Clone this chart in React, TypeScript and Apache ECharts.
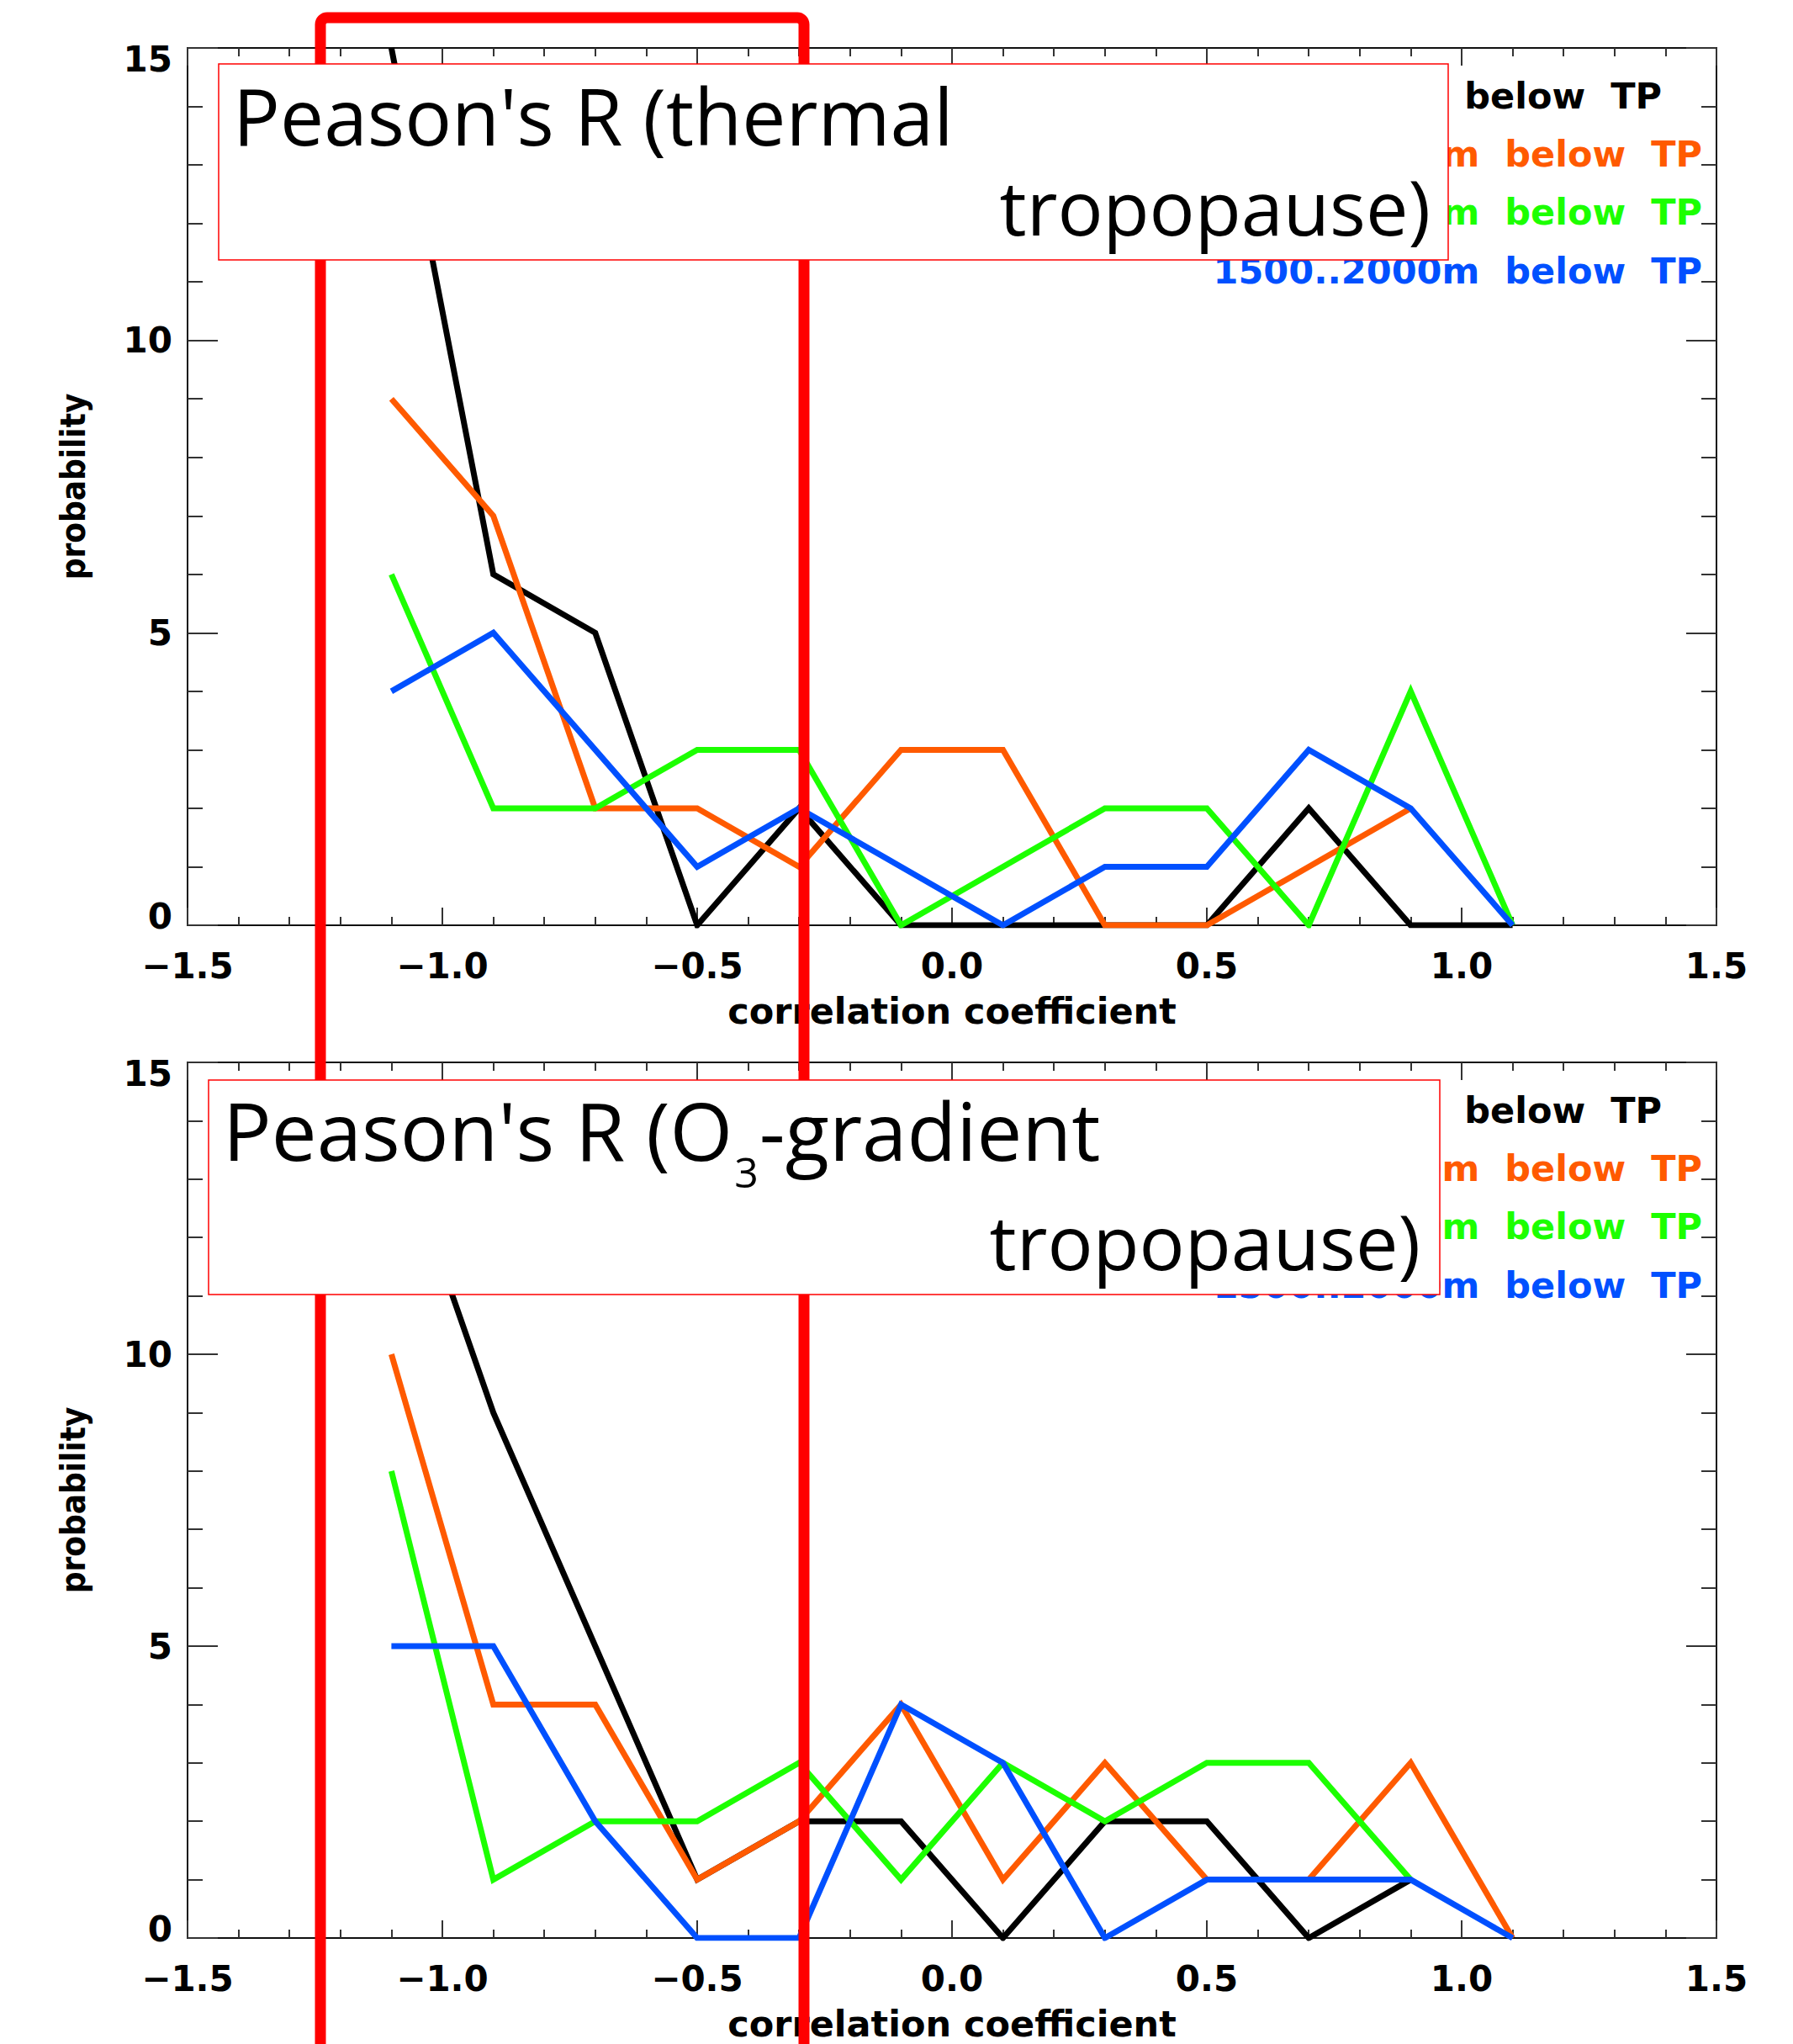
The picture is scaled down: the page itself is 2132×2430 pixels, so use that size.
import React, { useEffect, useRef } from 'react';
import * as echarts from 'echarts';

// ---------- data ----------
const binCenters = [-1.1, -0.9, -0.7, -0.5, -0.3, -0.1, 0.1, 0.3, 0.5, 0.7, 0.9, 1.1];
const seriesNames = ['0..500m  below  TP', '500..1000m  below  TP', '1000..1500m  below  TP', '1500..2000m  below  TP'];
const seriesColors = ['#000000', '#ff5a00', '#1cff00', '#0050ff'];

// Top panel: thermal tropopause
const thermalBlack = [15, 6, 5, 0, 2, 0, 0, 0, 0, 2, 0, 0];
const thermalOrange = [9, 7, 2, 2, 1, 3, 3, 0, 0, 1, 2, null];
const thermalGreen = [6, 2, 2, 3, 3, 0, 1, 2, 2, 0, 4, 0];
const thermalBlue = [4, 5, 3, 1, 2, 1, 0, 1, 1, 3, 2, 0];

// Bottom panel: O3-gradient tropopause
const ozoneBlack = [14, 9, 5, 1, 2, 2, 0, 2, 2, 0, 1, null];
const ozoneOrange = [10, 4, 4, 1, 2, 4, 1, 3, 1, 1, 3, 0];
const ozoneGreen = [8, 1, 2, 2, 3, 1, 3, 2, 3, 3, 1, null];
const ozoneBlue = [5, 5, 2, 0, 0, 4, 3, 0, 1, 1, 1, 0];

const xTickValues = [-1.5, -1.0, -0.5, 0.0, 0.5, 1.0, 1.5];
const yTickValues = [0, 5, 10, 15];

const xAxisTitle = 'correlation coefficient';
const yAxisTitle = 'probability';
const topTitleLine1 = "Peason's R (thermal";
const bottomTitleParts = ["Peason's R (O", '3', '-gradient'];
const titleLine2 = 'tropopause)';

// ---------- layout ----------
const LEFT = 223;
const WIDTH = 1818;
const panels = [
  { top: 57, height: 1043, values: [thermalBlack, thermalOrange, thermalGreen, thermalBlue] },
  { top: 1263, height: 1041, values: [ozoneBlack, ozoneOrange, ozoneGreen, ozoneBlue] },
];

const IDL_FONT = 'DejaVu Sans';
const TITLE_FONT = 'Open Sans';

function measure(text: string, font: string): number {
  const ctx = document.createElement('canvas').getContext('2d');
  if (!ctx) return text.length * 40;
  ctx.font = font;
  return ctx.measureText(text).width;
}

function fmtX(v: number): string {
  const s = Math.abs(v).toFixed(1);
  return v < -1e-9 ? '\u2212' + s : s;
}

function buildOption() {
  const xMin = xTickValues[0];
  const xMax = xTickValues[xTickValues.length - 1];
  const xInt = xTickValues[1] - xTickValues[0];
  const yMin = yTickValues[0];
  const yMax = yTickValues[yTickValues.length - 1];
  const yInt = yTickValues[1] - yTickValues[0];

  const axisLine = { show: true, onZero: false, lineStyle: { color: '#111', width: 2 } };
  const tickStyle = { color: '#333', width: 2 };

  const grids: any[] = [];
  const xAxes: any[] = [];
  const yAxes: any[] = [];
  const series: any[] = [];
  const graphics: any[] = [];

  panels.forEach((p, pi) => {
    grids.push({ left: LEFT, top: p.top, width: WIDTH, height: p.height, containLabel: false, outerBoundsMode: 'none' });
    // bottom x axis
    xAxes.push({
      type: 'value', gridIndex: pi, position: 'bottom', min: xMin, max: xMax, interval: xInt,
      axisLine, splitLine: { show: false },
      axisTick: { show: true, inside: true, length: 21, lineStyle: tickStyle },
      minorTick: { show: true, splitNumber: 5, length: 10, lineStyle: tickStyle },
      axisLabel: {
        show: true, margin: 27, formatter: (v: number) => fmtX(v),
        fontFamily: IDL_FONT, fontWeight: 'bold', fontSize: 42, color: '#000',
      },
      name: xAxisTitle, nameLocation: 'middle', nameGap: 80,
      nameTextStyle: { fontFamily: IDL_FONT, fontWeight: 'bold', fontSize: 43, color: '#000' },
    });
    // top mirror x axis
    xAxes.push({
      type: 'value', gridIndex: pi, position: 'top', min: xMin, max: xMax, interval: xInt,
      axisLine, splitLine: { show: false },
      axisTick: { show: true, inside: true, length: 21, lineStyle: tickStyle },
      minorTick: { show: true, splitNumber: 5, length: 10, lineStyle: tickStyle },
      axisLabel: { show: false },
    });
    // left y axis
    yAxes.push({
      type: 'value', gridIndex: pi, position: 'left', min: yMin, max: yMax, interval: yInt,
      axisLine, splitLine: { show: false },
      axisTick: { show: true, inside: true, length: 36, lineStyle: tickStyle },
      minorTick: { show: true, splitNumber: 5, length: 18, lineStyle: tickStyle },
      axisLabel: {
        show: true, margin: 18, color: '#000',
        fontFamily: IDL_FONT, fontWeight: 'bold', fontSize: 42,
        formatter: (v: number) => (v === yMax ? '{hi|' + v + '}' : v === yMin ? '{lo|' + v + '}' : String(v)),
        rich: {
          hi: { fontFamily: IDL_FONT, fontWeight: 'bold', fontSize: 42, color: '#000', padding: [27, 0, 0, 0] },
          lo: { fontFamily: IDL_FONT, fontWeight: 'bold', fontSize: 42, color: '#000', padding: [0, 0, 22, 0] },
        },
      },
      name: yAxisTitle, nameLocation: 'middle', nameGap: 116, nameRotate: 90,
      nameTextStyle: { fontFamily: 'DejaVu Sans Condensed', fontWeight: 'bold', fontSize: 40, color: '#000' },
    });
    // right mirror y axis
    yAxes.push({
      type: 'value', gridIndex: pi, position: 'right', min: yMin, max: yMax, interval: yInt,
      axisLine, splitLine: { show: false },
      axisTick: { show: true, inside: true, length: 36, lineStyle: tickStyle },
      minorTick: { show: true, splitNumber: 5, length: 18, lineStyle: tickStyle },
      axisLabel: { show: false },
    });

    p.values.forEach((vals, si) => {
      const data = binCenters
        .map((x, i) => [x, vals[i]])
        .filter((d) => d[1] !== null && d[1] !== undefined);
      series.push({
        type: 'line', name: seriesNames[si] + ' ' + pi, xAxisIndex: pi * 2, yAxisIndex: pi * 2,
        data, showSymbol: false, symbol: 'none', clip: true, z: 2 + si * 0.01,
        lineStyle: { color: seriesColors[si], width: 7, join: 'miter', cap: 'butt' },
        itemStyle: { color: seriesColors[si] },
        emphasis: { disabled: true },
      });
    });

    // IDL-style legend: coloured text only
    const legendOffsets = [57, 126, 195, 265];
    seriesNames.forEach((name, si) => {
      graphics.push({
        type: 'text', z: 10,
        x: si === 0 ? 1976 : 2024, y: p.top + legendOffsets[si],
        style: {
          text: name, fill: seriesColors[si], fontFamily: IDL_FONT, fontWeight: 'bold', fontSize: 43,
          align: 'right', verticalAlign: 'middle',
        },
      });
    });
  });

  // red highlight frame
  graphics.push({
    type: 'rect', z: 20,
    shape: { x: 381, y: 21, width: 575, height: 2600, r: 8 },
    style: { fill: 'none', stroke: '#ff0000', lineWidth: 13 },
  });

  // white annotation boxes
  graphics.push({
    type: 'rect', z: 30, shape: { x: 260, y: 76, width: 1462, height: 233 },
    style: { fill: '#ffffff', stroke: '#ff0000', lineWidth: 1.5 },
  });
  graphics.push({
    type: 'rect', z: 30, shape: { x: 248, y: 1284, width: 1464, height: 255 },
    style: { fill: '#ffffff', stroke: '#ff0000', lineWidth: 1.5 },
  });

  const TS = 93;
  const TSB = 96;
  const TS2 = 90;
  const SUB = 50;
  const central = 0.388;
  const titleStyle = (text: string, align: string, size: number) => ({
    text, fill: '#000', fontFamily: TITLE_FONT, fontSize: size, fontWeight: 'normal', align, verticalAlign: 'middle',
  });

  // top title
  graphics.push({ type: 'text', z: 40, x: 277, y: 173 - central * TS, style: titleStyle(topTitleLine1, 'left', TS) });
  graphics.push({ type: 'text', z: 40, x: 1701, y: 280 - central * TS2, style: titleStyle(titleLine2, 'right', TS2) });

  // bottom title with subscript
  const x0 = 265;
  const w1 = measure(bottomTitleParts[0], `400 ${TSB}px "${TITLE_FONT}"`);
  const w2 = measure(bottomTitleParts[1], `400 ${SUB}px "${TITLE_FONT}"`);
  graphics.push({ type: 'text', z: 40, x: x0, y: 1380 - central * TSB, style: titleStyle(bottomTitleParts[0], 'left', TSB) });
  graphics.push({ type: 'text', z: 40, x: x0 + w1 + 2, y: 1412 - central * SUB, style: titleStyle(bottomTitleParts[1], 'left', SUB) });
  graphics.push({ type: 'text', z: 40, x: x0 + w1 + w2 + 3, y: 1380 - central * TSB, style: titleStyle(bottomTitleParts[2], 'left', TSB) });
  graphics.push({ type: 'text', z: 40, x: 1689, y: 1510 - central * TS2, style: titleStyle(titleLine2, 'right', TS2) });

  return {
    animation: false,
    backgroundColor: '#ffffff',
    grid: grids,
    xAxis: xAxes,
    yAxis: yAxes,
    series,
    graphic: { elements: graphics },
  };
}

export default function App() {
  const ref = useRef<HTMLDivElement>(null);
  useEffect(() => {
    document.body.style.margin = '0';
    if (!ref.current) return;
    const chart = echarts.init(ref.current, null, { renderer: 'svg' });
    chart.setOption(buildOption() as any);
    return () => {
      chart.dispose();
    };
  }, []);
  return <div ref={ref} style={{ width: 2132, height: 2430 }} />;
}
